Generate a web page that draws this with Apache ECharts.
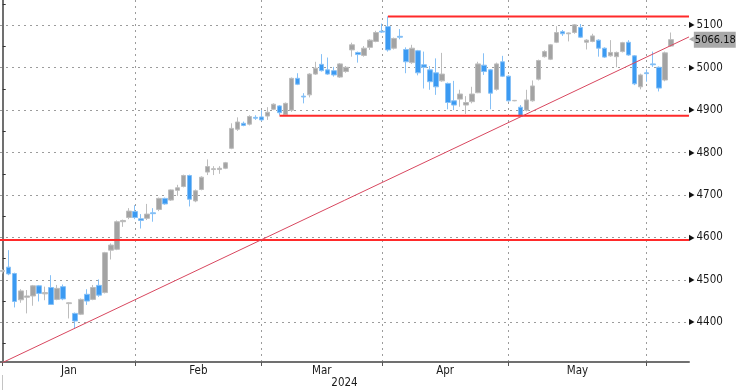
<!DOCTYPE html>
<html><head><meta charset="utf-8">
<script src="https://cdn.jsdelivr.net/npm/echarts@6/dist/echarts.min.js"></script>
<style>html,body{margin:0;padding:0;background:#fff}#c{width:736px;height:390px}</style>
</head><body><div id="c"></div>
<script>
// ---- data (trading-day index on x) ----
const monthLabels = ['Jan', 'Feb', 'Mar', 'Apr', 'May'];
const monthStartIdx = [0, 22, 43, 63, 84, 107];
const yearLabel = '2024';
const yTickLabels = [4400, 4500, 4600, 4700, 4800, 4900, 5000, 5100];

const openP = [4520,4530,4515,4453,4459,4462,4486,4467,4482,4454,4484,4444,4421,4419,4466,4454,4487,4470,4570,4572,4637,
  4647,4661,4644,4645,4658,4666,4692,4688,4711,4720,4746,4686,4713,4754,4760,4760,4763,4810,4855,4869,4867,4883,
  4884,4886,4902,4910,4889,4900,4975,4933,4936,4985,5008,4995,4993,4978,4991,5042,5036,5029,5048,5062,
  5086,5097,5046,5074,5043,5012,5040,5007,4995,4988,4969,4963,4922,4926,4912,4920,4941,5006,4995,4949,5014,
  4980,4922,4907,4900,4922,4973,5026,5020,5060,5085,5080,5083,5095,5060,5062,5065,5046,5028,5026,5038,5060,5028,4955,
  4988,5009,5001,4971,5051];
const closeP = [4522,4514,4449,4474,4462,4486,4468,4470,4442,4480,4455,4446,4403,4454,4450,4482,4464,4564,4582,4637,4640,
  4662,4647,4640,4655,4656,4692,4679,4712,4717,4746,4690,4710,4742,4767,4762,4763,4776,4857,4872,4864,4885,4881,
  4877,4895,4914,4894,4916,4975,4961,4931,4985,4999,4993,4985,4983,5009,5001,5054,5031,5046,5065,5083,
  5084,5042,5069,5072,5014,5046,4988,5001,4967,4955,4985,4918,4912,4938,4918,4938,5009,4991,4940,5009,4980,
  4922,4923,4886,4924,4957,5017,5038,5054,5083,5080,5082,5101,5072,5065,5075,5046,5025,5036,5036,5059,5030,4962,4983,
  4986,5007,4952,5035,5066.18];
const lowP = [4515,4511,4435,4446,4421,4439,4449,4452,4441,4452,4452,4409,4386,4417,4441,4452,4460,4468,4548,4570,4625,
  4643,4643,4621,4641,4637,4662,4677,4686,4698,4718,4673,4683,4711,4747,4747,4750,4761,4808,4851,4862,4864,4877,
  4874,4877,4900,4888,4886,4896,4959,4916,4930,4983,4991,4983,4979,4976,4988,5026,5012,5026,5042,5060,
  5082,5038,5043,5067,4987,5009,4982,4951,4948,4936,4967,4902,4900,4908,4891,4916,4940,4983,4902,4946,4978,
  4920,4921,4884,4897,4920,4970,5024,5018,5058,5075,5062,5080,5070,5043,5060,5026,5023,5026,5001,5036,5028,4959,4949,
  4967,5002,4944,4968,5049];
const highP = [4525,4570,4517,4478,4476,4488,4488,4484,4511,4488,4489,4447,4423,4456,4478,4488,4501,4566,4586,4640,4642,
  4669,4676,4655,4679,4669,4694,4694,4713,4724,4748,4748,4713,4744,4784,4768,4768,4778,4869,4883,4873,4888,4888,
  4900,4907,4916,4912,4918,4977,4987,4940,4987,5014,5032,5024,5002,5011,5004,5059,5038,5051,5067,5087,
  5104,5121,5071,5091,5048,5054,5042,5038,5004,5022,5035,4965,4969,4948,4933,4955,5014,5034,4997,5012,5028,
  4982,4924,4912,4948,4970,5019,5041,5056,5098,5089,5083,5103,5103,5067,5080,5067,5048,5065,5038,5061,5065,5030,4986,
  4996,5038,5003,5038,5083];

// annotation levels
const resistanceTop = { level: 5121, fromIdx: 64 };
const supportMid = { level: 4887, fromIdx: 46 };
const supportLow = { level: 4594 };
const trendAnchors = [[12, 4386], [86, 4884]]; // line through two swing lows

// ---- layout/scale settings ----
const xMin = -0.45, xMax = 114.02;
const yMin = 4306.4, yMax = 5159.6;
const font = '"DejaVu Sans Condensed","DejaVu Sans",sans-serif';

const candles = openP.map((o, i) => [i, o, closeP[i], lowP[i], highP[i]]);
const labelPos = monthLabels.map((m, i) => (monthStartIdx[i] + monthStartIdx[i + 1]) / 2);
const slope = (trendAnchors[1][1] - trendAnchors[0][1]) / (trendAnchors[1][0] - trendAnchors[0][0]);
const trendAt = x => trendAnchors[0][1] + (x - trendAnchors[0][0]) * slope;
const minorTicks = [yTickLabels[0] - 50].concat(yTickLabels.map(v => v + 50));
const lastClose = closeP[closeP.length - 1];

const gridLine = { show: true, lineStyle: { color: '#9c9c9c', type: [2, 4], width: 1 } };
const hLine = (data, color, width) => ({
  type: 'line', xAxisIndex: 0, yAxisIndex: 0, data, symbol: 'none', silent: true, z: 4,
  lineStyle: { color, width }, animation: false
});

const chart = echarts.init(document.getElementById('c'), null, { renderer: 'canvas' });
chart.setOption({
  animation: false,
  grid: { left: 0, right: 47, top: 0, bottom: 28, outerBoundsMode: 'none', containLabel: false },
  xAxis: [{
    type: 'value', min: xMin, max: xMax, position: 'bottom',
    axisLine: { show: true, onZero: false, lineStyle: { color: '#707070', width: 2 } },
    axisTick: { show: true, customValues: monthStartIdx, length: 4, lineStyle: { color: '#555' } },
    splitLine: gridLine,
    axisLabel: {
      customValues: labelPos, margin: 3, color: '#1a1a1a', fontSize: 11.5, fontFamily: font,
      formatter: v => {
        let best = 0;
        labelPos.forEach((p, i) => { if (Math.abs(p - v) < Math.abs(labelPos[best] - v)) best = i; });
        return monthLabels[best];
      }
    },
    name: yearLabel, nameLocation: 'middle', nameGap: 15, nameMoveOverlap: false,
    nameTextStyle: { color: '#1a1a1a', fontSize: 11.5, fontFamily: font }
  }, {
    type: 'value', min: xMin, max: xMax, position: 'bottom', offset: 13,
    axisLine: { show: false }, splitLine: { show: false }, axisLabel: { show: false },
    axisTick: { show: true, customValues: [monthStartIdx[0]], length: 15, lineStyle: { color: '#c4c4c4' } }
  }],
  yAxis: [{
    type: 'value', position: 'right', min: yMin, max: yMax,
    axisLine: { show: true, lineStyle: { color: '#707070', width: 2 } },
    axisTick: { show: false, customValues: yTickLabels },
    splitLine: gridLine,
    axisLabel: {
      customValues: yTickLabels, margin: 0, fontFamily: font,
      formatter: v => '{t|\u25B6}{v|' + v + '}',
      rich: {
        t: { fontSize: 8, color: '#111', padding: [0, 2, 0, 0] },
        v: { fontSize: 11.5, color: '#1a1a1a', fontFamily: font }
      }
    }
  }, {
    type: 'value', position: 'right', min: yMin, max: yMax,
    axisLine: { show: false }, splitLine: { show: false }, axisLabel: { show: false },
    axisTick: { show: true, customValues: minorTicks, length: 3, lineStyle: { color: '#333' } }
  }, {
    type: 'value', position: 'right', min: yMin, max: yMax,
    axisLine: { show: false }, splitLine: { show: false }, axisTick: { show: false },
    axisLabel: {
      customValues: [lastClose], margin: 0, fontFamily: font,
      formatter: v => '{a|\u25C0}{b|' + v.toFixed(2) + '}',
      rich: {
        a: { fontSize: 7, color: '#a9a9a9' },
        b: { fontSize: 11, color: '#111', fontFamily: font, backgroundColor: '#a9a9a9', padding: [3, 0, 2, 1] }
      }
    }
  }],
  series: [
    {
      type: 'candlestick', xAxisIndex: 0, yAxisIndex: 0, data: candles, barWidth: 5, z: 2,
      itemStyle: { color: '#a3a3a3', color0: '#3b9af2', borderColor: '#bdbdbd', borderColor0: '#86c0f6', borderWidth: 1 }
    },
    hLine([[xMin, supportLow.level], [xMax, supportLow.level]], '#ff2a2a', 2),
    hLine([[supportMid.fromIdx, supportMid.level], [xMax, supportMid.level]], '#ff2a2a', 2),
    hLine([[resistanceTop.fromIdx, resistanceTop.level], [xMax, resistanceTop.level]], '#ff2a2a', 2),
    hLine([[xMin, trendAt(xMin)], [xMax, trendAt(xMax)]], '#d8475f', 1)
  ]
});
</script></body></html>
